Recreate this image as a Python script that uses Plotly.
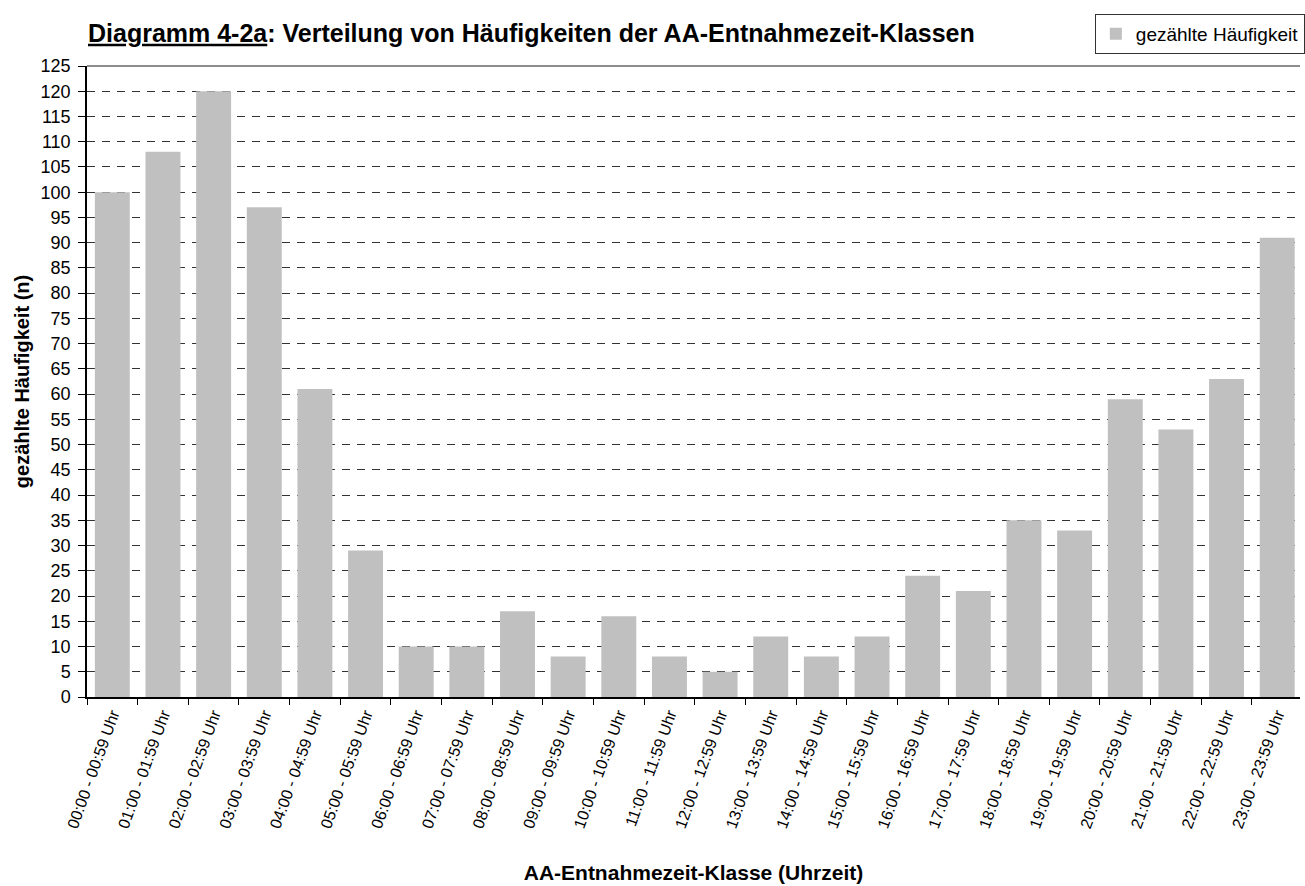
import plotly.graph_objects as go

categories = [
    "00:00 - 00:59 Uhr", "01:00 - 01:59 Uhr", "02:00 - 02:59 Uhr", "03:00 - 03:59 Uhr",
    "04:00 - 04:59 Uhr", "05:00 - 05:59 Uhr", "06:00 - 06:59 Uhr", "07:00 - 07:59 Uhr",
    "08:00 - 08:59 Uhr", "09:00 - 09:59 Uhr", "10:00 - 10:59 Uhr", "11:00 - 11:59 Uhr",
    "12:00 - 12:59 Uhr", "13:00 - 13:59 Uhr", "14:00 - 14:59 Uhr", "15:00 - 15:59 Uhr",
    "16:00 - 16:59 Uhr", "17:00 - 17:59 Uhr", "18:00 - 18:59 Uhr", "19:00 - 19:59 Uhr",
    "20:00 - 20:59 Uhr", "21:00 - 21:59 Uhr", "22:00 - 22:59 Uhr", "23:00 - 23:59 Uhr",
]
counts = [100, 108, 120, 97, 61, 29, 10, 10, 17, 8, 16, 8,
          5, 12, 8, 12, 24, 21, 35, 33, 59, 53, 63, 91]
series_name = "gezählte Häufigkeit"
y_ticks = list(range(0, 126, 5))

FONT = "Liberation Sans, Arial, sans-serif"

fig = go.Figure(
    go.Bar(
        x=categories,
        y=counts,
        name=series_name,
        marker=dict(color="#c0c0c0", line=dict(width=0)),
        showlegend=True,
    )
)

fig.update_layout(
    width=1305,
    height=886,
    margin=dict(l=87, r=0, t=66, b=189),
    paper_bgcolor="white",
    plot_bgcolor="white",
    bargap=0.31,
    font=dict(family=FONT, size=16, color="black"),
    title=dict(
        text="<b><u>Diagramm 4-2a</u>: Verteilung von Häufigkeiten der AA-Entnahmezeit-Klassen</b>",
        font=dict(family=FONT, size=25, color="black"),
        xref="container", x=88 / 1305, xanchor="left",
        yref="container", y=1 - 33 / 886, yanchor="middle",
    ),
    showlegend=True,
    legend=dict(
        x=(1099 - 87) / 1218, xanchor="left",
        y=1 + 52 / 631, yanchor="top",
        bgcolor="white",
        bordercolor="#333333",
        borderwidth=1,
        font=dict(family=FONT, size=19, color="black"),
        itemwidth=30,
    ),
)

fig.update_xaxes(
    type="category",
    range=[-0.5, 23.45],
    tickangle=-70,
    tickson="boundaries",
    ticks="outside",
    ticklen=6,
    tickcolor="black",
    tickfont=dict(family=FONT, size=16, color="black"),
    showline=True,
    linecolor="black",
    linewidth=1.5,
    showgrid=False,
    title=dict(
        text="<b>AA-Entnahmezeit-Klasse (Uhrzeit)</b>",
        font=dict(family=FONT, size=21, color="black"),
        standoff=36,
    ),
)

fig.update_yaxes(
    range=[0, 125],
    tickvals=y_ticks,
    ticktext=[str(v) for v in y_ticks],
    ticks="outside",
    ticklen=7,
    tickcolor="black",
    tickfont=dict(family=FONT, size=18, color="black"),
    ticklabelstandoff=4,
    showline=True,
    linecolor="black",
    linewidth=1.5,
    showgrid=True,
    gridcolor="#333333",
    gridwidth=1,
    griddash="8px,7px",
    zeroline=False,
    title=dict(
        text="<b>gezählte Häufigkeit (n)</b>",
        font=dict(family=FONT, size=20, color="black"),
        standoff=6,
    ),
)

# top border of the plot area (gray)
fig.add_shape(
    type="line", xref="paper", yref="paper",
    x0=0, x1=1, y0=1, y1=1,
    line=dict(color="#8c8c8c", width=2),
)

fig.write_html(
    "out.html",
    config={"displayModeBar": False},
    post_script="document.body.style.margin='0px';document.body.style.overflow='hidden';",
)
